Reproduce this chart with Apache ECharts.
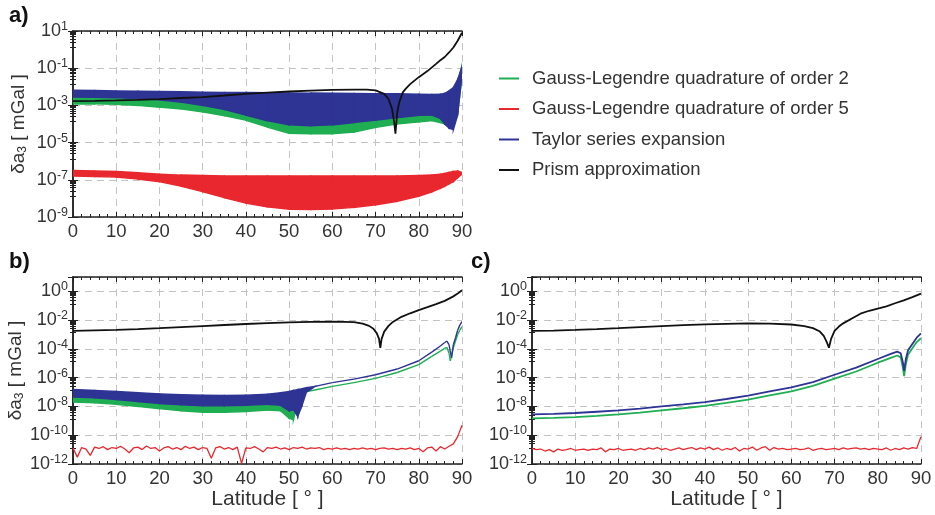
<!DOCTYPE html>
<html>
<head>
<meta charset="utf-8">
<script src="https://cdn.jsdelivr.net/npm/echarts@6/dist/echarts.min.js"></script>
<style>
  html, body { margin: 0; padding: 0; background: #fff; }
  #chart { width: 935px; height: 515px; }
</style>
</head>
<body>
<div id="chart"></div>
<script>
// ---- Panel a) : full-latitude errors, bands show the rapid oscillation envelope ----
const aLat = [0, 5, 10, 15, 20, 25, 30, 35, 40, 45, 50, 55, 60, 65, 70, 75, 80, 83, 85, 86, 87, 88, 89, 90];
const aGreenHi = [3.5e-3, 3.4e-3, 3.3e-3, 3.2e-3, 3.1e-3, 3.0e-3, 3.0e-3, 2.9e-3, 2.9e-3, 2.8e-3, 2.8e-3, 2.8e-3, 2.8e-3, 2.8e-3, 2.8e-3, 2.8e-3, 2.8e-3, 2.9e-3, 3.0e-3, 3.2e-3, 3.5e-3, 4.5e-3, 1.5e-2, 0.15];
const aGreenLo = [1.2e-3, 1.2e-3, 1.15e-3, 1.0e-3, 8.0e-4, 6.5e-4, 4.4e-4, 2.8e-4, 1.6e-4, 6.8e-5, 3.2e-5, 3.0e-5, 3.0e-5, 3.7e-5, 6.5e-5, 1.0e-4, 1.3e-4, 1.5e-4, 1.2e-4, 1.0e-4, 8.0e-5, 1.0e-4, 4.0e-4, 3.0e-2];
const aBlueHi = [6.5e-3, 6.3e-3, 6.0e-3, 5.8e-3, 5.6e-3, 5.4e-3, 5.2e-3, 5.0e-3, 4.9e-3, 4.8e-3, 4.7e-3, 4.6e-3, 4.5e-3, 4.4e-3, 4.3e-3, 4.2e-3, 4.0e-3, 3.9e-3, 4.0e-3, 4.5e-3, 6.0e-3, 9.0e-3, 2.5e-2, 0.12];
const aBlueLo = [2.8e-3, 2.7e-3, 2.6e-3, 2.3e-3, 2.0e-3, 1.5e-3, 1.0e-3, 6.0e-4, 3.0e-4, 1.5e-4, 9.0e-5, 8.0e-5, 9.0e-5, 1.2e-4, 1.6e-4, 2.2e-4, 2.9e-4, 3.0e-4, 2.0e-4, 1.0e-4, 6.0e-5, 5.0e-5, 3.0e-4, 5.0e-2];
const aRedHi = [3.2e-7, 3.0e-7, 2.8e-7, 2.4e-7, 2.0e-7, 1.8e-7, 1.7e-7, 1.6e-7, 1.6e-7, 1.6e-7, 1.6e-7, 1.6e-7, 1.6e-7, 1.6e-7, 1.6e-7, 1.6e-7, 1.7e-7, 1.8e-7, 2.0e-7, 2.2e-7, 2.5e-7, 2.8e-7, 3.0e-7, 2.5e-7];
const aRedLo = [1.6e-7, 1.5e-7, 1.4e-7, 1.1e-7, 8.0e-8, 4.5e-8, 2.3e-8, 1.1e-8, 5.6e-9, 3.5e-9, 2.6e-9, 2.5e-9, 2.7e-9, 3.3e-9, 4.5e-9, 7.0e-9, 1.3e-8, 2.2e-8, 3.5e-8, 4.5e-8, 6.0e-8, 8.0e-8, 1.3e-7, 2.0e-7];
const aBlackLat = [0, 5, 10, 15, 20, 25, 30, 35, 40, 45, 50, 55, 60, 65, 68, 70, 72, 73, 73.8, 74.3, 74.6, 75, 75.5, 76.3, 77, 78, 80, 82, 84, 85, 86, 87, 88, 89, 90];
const aBlack = [1.7e-3, 1.75e-3, 1.85e-3, 2.0e-3, 2.2e-3, 2.5e-3, 2.8e-3, 3.4e-3, 4.2e-3, 4.9e-3, 5.6e-3, 6.3e-3, 6.9e-3, 7.1e-3, 7.0e-3, 6.4e-3, 4.2e-3, 2.2e-3, 6.6e-4, 1.3e-4, 3.0e-5, 4.0e-4, 1.5e-3, 5.0e-3, 8.0e-3, 1.4e-2, 3.3e-2, 7.0e-2, 0.17, 0.27, 0.4, 0.7, 1.3, 3.0, 8.0];

// ---- Panel b) ----
const bLat = [0, 5, 10, 15, 20, 25, 30, 35, 40, 45, 48, 50, 51, 52, 53, 54, 56, 60, 65, 70, 75, 80, 83, 85, 86, 86.5, 87, 87.3, 87.6, 88, 88.5, 89, 89.5, 90];
const bBlueHi = [1.5e-7, 1.3e-7, 1.1e-7, 9.0e-8, 7.5e-8, 6.5e-8, 6.0e-8, 5.8e-8, 6.0e-8, 7.0e-8, 9.0e-8, 1.1e-7, 1.3e-7, 1.5e-7, 1.7e-7, 2.0e-7, 2.5e-7, 4.5e-7, 8.0e-7, 1.6e-6, 4.0e-6, 1.5e-5, 6.0e-5, 1.6e-4, 2.8e-4, 3.5e-4, 2.0e-4, 6.0e-5, 2.5e-5, 2.0e-4, 6.0e-4, 2.0e-3, 4.5e-3, 8.0e-3];
const bBlueLo = [4.5e-8, 4.0e-8, 3.0e-8, 2.2e-8, 1.6e-8, 1.3e-8, 1.1e-8, 1.1e-8, 1.2e-8, 1.4e-8, 1.2e-8, 5.0e-9, 6.0e-9, 2.0e-9, 1.2e-8, 1.0e-7, 2.5e-7, 4.5e-7, 8.0e-7, 1.6e-6, 4.0e-6, 1.5e-5, 6.0e-5, 1.6e-4, 2.8e-4, 3.5e-4, 2.0e-4, 6.0e-5, 2.5e-5, 2.0e-4, 6.0e-4, 2.0e-3, 4.5e-3, 8.0e-3];
const bGreenHi = [5.6e-8, 5.2e-8, 4.8e-8, 4.4e-8, 4.1e-8, 4.0e-8, 4.0e-8, 3.8e-8, 3.8e-8, 4.2e-8, 5.0e-8, 6.0e-8, 7.0e-8, 8.0e-8, 9.0e-8, 1.1e-7, 1.4e-7, 2.5e-7, 4.5e-7, 9.0e-7, 2.3e-6, 8.0e-6, 3.0e-5, 7.0e-5, 1.1e-4, 1.3e-4, 5.0e-5, 1.5e-5, 4.0e-5, 1.2e-4, 3.5e-4, 1.0e-3, 2.0e-3, 3.5e-3];
const bGreenLo = [2.0e-8, 1.8e-8, 1.4e-8, 1.0e-8, 7.0e-9, 5.0e-9, 4.0e-9, 4.0e-9, 4.5e-9, 5.5e-9, 5.0e-9, 1.5e-9, 1.2e-9, 2.0e-8, 6.0e-8, 1.1e-7, 1.4e-7, 2.5e-7, 4.5e-7, 9.0e-7, 2.3e-6, 8.0e-6, 3.0e-5, 7.0e-5, 1.1e-4, 1.3e-4, 5.0e-5, 1.5e-5, 4.0e-5, 1.2e-4, 3.5e-4, 1.0e-3, 2.0e-3, 3.5e-3];
const bBlackLat = [0, 5, 10, 15, 20, 25, 30, 35, 40, 45, 50, 55, 60, 65, 67, 68.5, 69.5, 70.3, 70.8, 71.1, 71.4, 72, 73, 74, 76, 78, 80, 82, 84, 86, 88, 89, 90];
const bBlack = [1.8e-3, 1.95e-3, 2.1e-3, 2.4e-3, 2.8e-3, 3.3e-3, 3.9e-3, 4.6e-3, 5.4e-3, 6.2e-3, 7.0e-3, 7.6e-3, 7.8e-3, 7.2e-3, 5.8e-3, 4.0e-3, 2.5e-3, 1.2e-3, 5.0e-4, 1.2e-4, 5.0e-4, 1.6e-3, 4.0e-3, 7.5e-3, 1.7e-2, 3.0e-2, 5.0e-2, 8.0e-2, 0.13, 0.22, 0.45, 0.7, 1.2];
const redLat = [0,1,2,3,4,5,6,7,8,9,10,11,12,13,14,15,16,17,18,19,20,21,22,23,24,25,26,27,28,29,30,31,32,33,34,35,36,37,38,39,40,41,42,43,44,45,46,47,48,49,50,51,52,53,54,55,56,57,58,59,60,61,62,63,64,65,66,67,68,69,70,71,72,73,74,75,76,77,78,79,80,81,82,83,84,85,86,87,88,89,90];
const bRed = [1.3e-11, 3e-12, 1.4e-11, 1.1e-11, 4e-12, 1.5e-11, 1.2e-11, 1.6e-11, 1.0e-11, 1.4e-11,
  1.2e-11, 1.7e-11, 1.1e-11, 6e-12, 1.3e-11, 1.5e-11, 1.0e-11, 1.8e-11, 1.2e-11, 1.4e-11,
  8e-12, 1.3e-11, 1.6e-11, 1.1e-11, 1.4e-11, 1.0e-11, 1.7e-11, 1.2e-11, 1.5e-11, 1.0e-11,
  1.4e-11, 1.2e-11, 2.5e-12, 1.3e-11, 1.6e-11, 1.1e-11, 1.4e-11, 1.0e-11, 1.5e-11, 1.1e-12,
  1.3e-11, 1.2e-11, 1.6e-11, 1.1e-11, 7e-12, 1.4e-11, 1.2e-11, 1.5e-11, 1.1e-11, 1.3e-11,
  1.0e-11, 1.4e-11, 1.2e-11, 1.5e-11, 1.1e-11, 1.3e-11, 1.2e-11, 1.4e-11, 1.0e-11, 1.2e-11,
  1.1e-11, 1.3e-11, 1.1e-11, 1.2e-11, 1.0e-11, 1.2e-11, 1.1e-11, 1.3e-11, 1.1e-11, 1.2e-11,
  1.0e-11, 1.2e-11, 1.3e-11, 1.1e-11, 1.2e-11, 1.0e-11, 1.2e-11, 1.1e-11, 1.3e-11, 1.0e-11,
  1.2e-11, 7e-12, 1.3e-11, 1.5e-11, 8e-12, 1.6e-11, 1.1e-11, 1.7e-11, 2.5e-11, 8e-11, 5e-10];

// ---- Panel c) ----
const cLat = [0, 5, 10, 15, 20, 25, 30, 35, 40, 45, 50, 55, 60, 65, 70, 75, 80, 83, 84.5, 85.3, 85.8, 86.1, 86.5, 87, 88, 89, 90];
const cBlue = [2.8e-9, 3.1e-9, 3.5e-9, 4.3e-9, 5.3e-9, 7.0e-9, 1.0e-8, 1.4e-8, 2.0e-8, 3.3e-8, 5.6e-8, 1.1e-7, 2.1e-7, 5.0e-7, 1.6e-6, 5.0e-6, 2.0e-5, 4.5e-5, 6.5e-5, 5.0e-5, 1.2e-5, 3.0e-6, 2.0e-5, 8.0e-5, 2.2e-4, 6.0e-4, 1.2e-3];
const cGreen = [1.5e-9, 1.6e-9, 1.8e-9, 2.2e-9, 2.8e-9, 3.7e-9, 5.3e-9, 7.5e-9, 1.1e-8, 1.8e-8, 3.0e-8, 5.8e-8, 1.1e-7, 2.7e-7, 8.5e-7, 2.7e-6, 1.1e-5, 2.4e-5, 3.5e-5, 2.6e-5, 5.0e-6, 1.3e-6, 9.0e-6, 4.0e-5, 1.1e-4, 3.0e-4, 5.5e-4];
const cBlackLat = [0, 5, 10, 15, 20, 25, 30, 35, 40, 45, 50, 55, 60, 63, 65, 66.5, 67.5, 68.2, 68.7, 69.2, 70, 71, 72, 74, 76, 78, 80, 82, 84, 86, 88, 90];
const cBlack = [1.8e-3, 1.9e-3, 2.1e-3, 2.4e-3, 2.8e-3, 3.3e-3, 3.9e-3, 4.5e-3, 5.1e-3, 5.6e-3, 5.9e-3, 5.8e-3, 5.0e-3, 3.9e-3, 2.8e-3, 1.7e-3, 8.0e-4, 3.0e-4, 1.2e-4, 5.0e-4, 1.8e-3, 3.6e-3, 6.0e-3, 1.3e-2, 2.8e-2, 4.5e-2, 6.4e-2, 9.0e-2, 0.15, 0.24, 0.4, 0.7];
const cRed = [1.2e-11, 1.0e-11, 1.1e-11, 8e-12, 1.0e-11, 7e-12, 1.1e-11, 9e-12, 1.0e-11, 1.2e-11,
  9e-12, 1.0e-11, 1.1e-11, 9e-12, 1.1e-11, 1.0e-11, 1.3e-11, 7e-12, 1.1e-11, 1.0e-11,
  1.2e-11, 9e-12, 1.0e-11, 1.1e-11, 9e-12, 1.2e-11, 1.0e-11, 1.3e-11, 1.1e-11, 1.4e-11,
  1.0e-11, 1.2e-11, 9e-12, 1.1e-11, 1.3e-11, 1.0e-11, 1.2e-11, 1.4e-11, 1.0e-11, 1.3e-11,
  1.1e-11, 1.5e-11, 1.0e-11, 1.3e-11, 9e-12, 1.2e-11, 1.0e-11, 1.4e-11, 8e-12, 1.2e-11,
  1.1e-11, 1.5e-11, 9e-12, 1.3e-11, 1.6e-11, 9e-12, 1.4e-11, 1.1e-11, 1.2e-11, 1.0e-11,
  1.1e-11, 1.2e-11, 1.0e-11, 1.1e-11, 1.3e-11, 9e-12, 1.1e-11, 1.2e-11, 1.0e-11, 1.1e-11,
  1.2e-11, 1.0e-11, 1.3e-11, 1.1e-11, 1.2e-11, 1.3e-11, 1.1e-11, 1.2e-11, 1.0e-11, 1.2e-11,
  1.1e-11, 1.0e-11, 1.3e-11, 9e-12, 1.2e-11, 1.0e-11, 1.3e-11, 1.1e-11, 1.4e-11, 1.2e-11, 8e-11];

const xTicks = [0, 10, 20, 30, 40, 50, 60, 70, 80, 90];
const seriesNames = ['Gauss-Legendre quadrature of order 2', 'Gauss-Legendre quadrature of order 5', 'Taylor series expansion', 'Prism approximation'];

const GREEN = '#1fae52', RED = '#e8282e', BLUE = '#2e3494', BLACK = '#111111';
const FONT = '"Liberation Sans", Arial, Helvetica, sans-serif';
const TXT = '#333333';

const grids = [
  { left: 73, top: 31, width: 389, height: 186 },
  { left: 73, top: 277, width: 389, height: 187 },
  { left: 532, top: 277, width: 389, height: 187 }
];

const yRanges = [[1e-9, 10], [1e-12, 10], [1e-12, 10]];

function pow10Label(v, evenOnly) {
  const e = Math.round(Math.log10(v));
  if (evenOnly && e % 2 !== 0) return '';
  return '{b|10}{s|' + e + '}';
}

const labelRich = {
  b: { fontSize: 18, fontFamily: FONT, color: TXT },
  s: { fontSize: 12.5, fontFamily: FONT, color: TXT, padding: [0, 0, 9, 0] }
};

const xAxes = [], yAxes = [];
grids.forEach((g, i) => {
  const showName = i > 0;
  xAxes.push({
    type: 'value', gridIndex: i, position: 'bottom', min: 0, max: 90, interval: 10,
    axisLine: { show: true, lineStyle: { color: '#222', width: 1.5 } },
    axisTick: { show: true, inside: true, length: 5, lineStyle: { color: '#222' } },
    minorTick: { show: true, splitNumber: 5, length: 3, lineStyle: { color: '#222' } },
    axisLabel: { fontSize: 18.5, fontFamily: FONT, color: TXT, margin: 5,
      formatter: v => xTicks.indexOf(v) >= 0 ? String(v) : '' },
    splitLine: { show: true, lineStyle: { color: '#c4c4c4', type: [7, 5], width: 1 } },
    name: showName ? 'Latitude [ ° ]' : '', nameLocation: 'middle', nameGap: 24,
    nameTextStyle: { fontSize: 21, fontFamily: FONT, color: TXT }
  });
  xAxes.push({
    type: 'value', gridIndex: i, position: 'top', min: 0, max: 90, interval: 10,
    axisLine: { show: true, lineStyle: { color: '#222', width: 1.5 } },
    axisTick: { show: true, inside: true, length: 5, lineStyle: { color: '#222' } },
    minorTick: { show: true, splitNumber: 5, length: 3, lineStyle: { color: '#222' } },
    axisLabel: { show: false }, splitLine: { show: false }
  });
  const yr = yRanges[i];
  yAxes.push({
    type: 'log', logBase: 10, gridIndex: i, position: 'left', min: yr[0], max: yr[1], interval: 2,
    axisLine: { show: true, lineStyle: { color: '#222', width: 1.5 } },
    axisTick: { show: true, inside: true, length: 5, lineStyle: { color: '#222' } },
    minorTick: { show: true, splitNumber: 8, length: 3, lineStyle: { color: '#222' } },
    axisLabel: { margin: 5, formatter: v => pow10Label(v, i > 0), rich: labelRich },
    splitLine: { show: true, lineStyle: { color: '#c4c4c4', type: [7, 5], width: 1 } },
    name: i < 2 ? '{d|δa}{sub|3}{d| [ mGal ]}' : '', nameLocation: 'middle', nameGap: 44, nameRotate: 90,
    nameTextStyle: { rich: {
      d: { fontSize: 19, fontFamily: FONT, color: TXT },
      sub: { fontSize: 12, fontFamily: FONT, color: TXT, padding: [8, 0, 0, 0] }
    } }
  });
  yAxes.push({
    type: 'log', logBase: 10, gridIndex: i, position: 'right', min: yr[0], max: yr[1], interval: 2,
    axisLine: { show: true, lineStyle: { color: '#222', width: 1.5 } },
    axisTick: { show: true, inside: true, length: 5, lineStyle: { color: '#222' } },
    minorTick: { show: true, splitNumber: 8, length: 3, lineStyle: { color: '#222' } },
    axisLabel: { show: false }, splitLine: { show: false }
  });
});

// Filled envelope between a lower and an upper curve, drawn segment by segment
function band(name, color, xs, lo, hi, axis, z) {
  const data = [];
  for (let i = 0; i < xs.length - 1; i++) {
    data.push([xs[i], lo[i], hi[i], xs[i + 1], lo[i + 1], hi[i + 1]]);
  }
  return {
    type: 'custom', name, xAxisIndex: axis * 2, yAxisIndex: axis * 2, z, silent: true, clip: true,
    itemStyle: { color },
    data, encode: { x: [0, 3], y: [1, 2, 4, 5] },
    renderItem: (params, api) => {
      const pts = [
        api.coord([api.value(0), api.value(2)]),
        api.coord([api.value(3), api.value(5)]),
        api.coord([api.value(3), api.value(4)]),
        api.coord([api.value(0), api.value(1)])
      ];
      return { type: 'polygon', shape: { points: pts },
        style: { fill: color, stroke: color, lineWidth: 1.4 } };
    }
  };
}

function line(name, color, xs, ys, axis, z, w) {
  return {
    type: 'line', name, xAxisIndex: axis * 2, yAxisIndex: axis * 2, z,
    showSymbol: false, symbol: 'none', silent: true, animation: false,
    lineStyle: { color, width: w || 1.6 }, itemStyle: { color },
    data: xs.map((x, k) => [x, ys[k]])
  };
}

const series = [
  // a)
  band(seriesNames[1], RED, aLat, aRedLo, aRedHi, 0, 2),
  band(seriesNames[0], GREEN, aLat, aGreenLo, aGreenHi, 0, 3),
  band(seriesNames[2], BLUE, aLat, aBlueLo, aBlueHi, 0, 4),
  line(seriesNames[3], BLACK, aBlackLat, aBlack, 0, 6, 1.8),
  // b)
  band(seriesNames[0], GREEN, bLat, bGreenLo, bGreenHi, 1, 3),
  band(seriesNames[2], BLUE, bLat, bBlueLo, bBlueHi, 1, 4),
  line(seriesNames[1], RED, redLat, bRed, 1, 5, 1.3),
  line(seriesNames[3], BLACK, bBlackLat, bBlack, 1, 6, 1.8),
  // c)
  line(seriesNames[0], GREEN, cLat, cGreen, 2, 3, 1.8),
  line(seriesNames[2], BLUE, cLat, cBlue, 2, 4, 1.8),
  line(seriesNames[1], RED, redLat, cRed, 2, 5, 1.3),
  line(seriesNames[3], BLACK, cBlackLat, cBlack, 2, 6, 1.8)
];

const chart = echarts.init(document.getElementById('chart'), null, { renderer: 'canvas' });
chart.setOption({
  animation: false,
  backgroundColor: '#ffffff',
  textStyle: { fontFamily: FONT },
  grid: grids,
  xAxis: xAxes,
  yAxis: yAxes,
  legend: {
    orient: 'vertical', left: 494, top: 64, itemWidth: 20, itemHeight: 2, itemGap: 11.5,
    icon: 'rect', selectedMode: false,
    textStyle: { fontSize: 18.5, fontFamily: FONT, color: TXT, padding: [0, 0, 0, 8] },
    data: [
      { name: seriesNames[0], itemStyle: { color: GREEN } },
      { name: seriesNames[1], itemStyle: { color: RED } },
      { name: seriesNames[2], itemStyle: { color: BLUE } },
      { name: seriesNames[3], itemStyle: { color: BLACK } }
    ]
  },
  graphic: [
    { type: 'text', left: 9, top: 5, style: { text: 'a)', font: 'bold 22px ' + FONT, fill: '#111' } },
    { type: 'text', left: 9, top: 251, style: { text: 'b)', font: 'bold 22px ' + FONT, fill: '#111' } },
    { type: 'text', left: 471, top: 251, style: { text: 'c)', font: 'bold 22px ' + FONT, fill: '#111' } }
  ],
  series
});
</script>
</body>
</html>
